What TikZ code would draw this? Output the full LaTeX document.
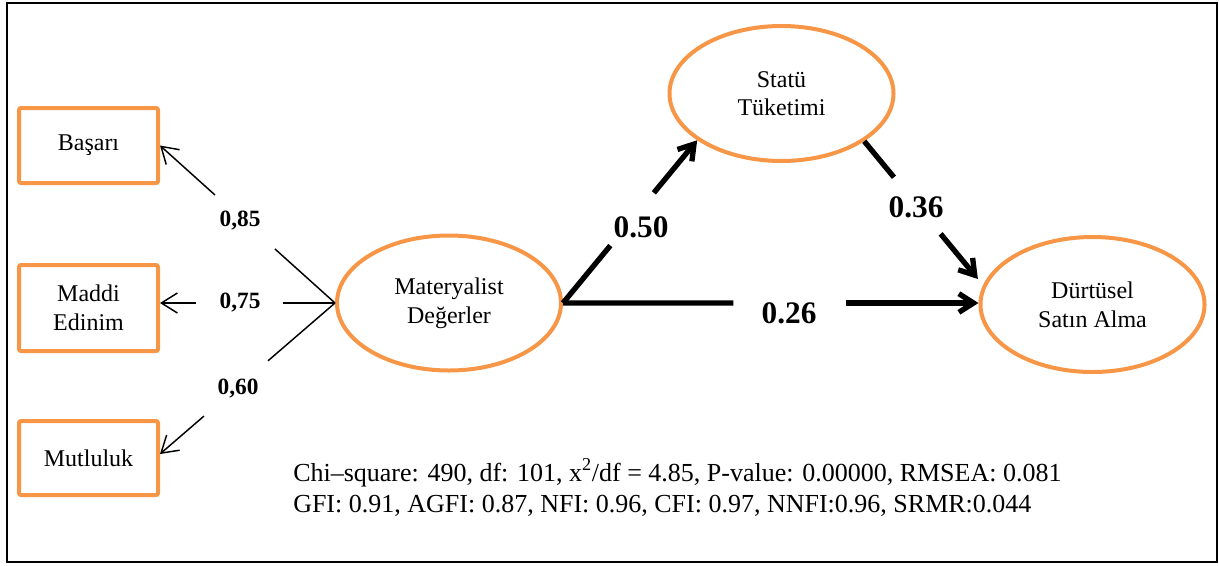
\documentclass[tikz,border=0pt]{standalone}
\usepackage{fontspec}
\setmainfont{Liberation Serif}
\usetikzlibrary{arrows.meta,calc,shapes.geometric}
\definecolor{borange}{HTML}{F79646}
\newcommand{\nodefont}{\fontsize{18}{21.5}\selectfont}
\begin{document}
\begin{tikzpicture}[x=0.75pt,y=-0.75pt,
  box/.style={draw=borange, line width=3pt, rounded corners=1.5pt, minimum width=104.25pt, inner sep=0pt, align=center, font=\nodefont},
  lat/.style={ellipse, draw=borange, line width=3pt, minimum width=168pt, minimum height=101.25pt, inner sep=0pt, align=center, font=\nodefont},
  thinline/.style={line width=1.1pt},
  thinarr/.style={line width=1.1pt, -{Straight Barb[length=12pt,width=15pt]}},
  thickline/.style={line width=4pt},
  thickarr/.style={line width=4pt, -{Straight Barb[length=11pt,width=14pt]}},
  smalllab/.style={font=\fontsize{17.5}{21}\selectfont\bfseries, inner sep=0pt},
  biglab/.style={font=\fontsize{23.5}{28}\selectfont\bfseries, inner sep=0pt}]
\useasboundingbox (0,0) rectangle (1219,565);
\draw[line width=1.9pt] (7,3) rectangle (1217,562);
% indicator boxes
\node[box, minimum height=56.25pt] (bas) at (88.5,145.5) {Başarı};
\node[box, minimum height=64.5pt] (mad) at (88.5,308) {Maddi\\Edinim};
\node[box, minimum height=55.5pt] (mut) at (88.5,458) {Mutluluk};
% latent ellipses
\node[lat] (mat) at (449,303) {Materyalist\\Değerler};
\node[lat] (stat) at (781.5,93.5) {Statü\\Tüketimi};
\node[lat] (dur) at (1092.5,304.5) {Dürtüsel\\Satın Alma};
% targets
\coordinate (madin) at (mat.west -| mad.east);
\coordinate (mutin) at ([yshift=3pt]mut.east);
\coordinate (durin) at (mat.east -| dur.west);
% thin loadings
\coordinate (a1) at ($(mat.west)!0.343!(bas.east)$);
\coordinate (b1) at ($(mat.west)!0.686!(bas.east)$);
\draw[thinline] (mat.west) -- (a1);
\draw[thinarr] (b1) -- (bas.east);
\node[smalllab] (l85) at (240,221) {0,85};
\coordinate (a2) at ($(mat.west)!0.297!(madin)$);
\coordinate (b2) at ($(mat.west)!0.794!(madin)$);
\draw[thinline] (mat.west) -- (a2);
\draw[thinarr] (b2) -- (madin);
\node[smalllab] (l75) at (240,303) {0,75};
\coordinate (a3) at ($(mat.west)!0.383!(mutin)$);
\coordinate (b3) at ($(mat.west)!0.749!(mutin)$);
\draw[thinline] (mat.west) -- (a3);
\draw[thinarr] (b3) -- (mutin);
\node[smalllab] (l60) at (238,389) {0,60};
% structural paths
\coordinate (a4) at ($(mat.east)!0.353!(stat.209)$);
\coordinate (b4) at ($(mat.east)!0.677!(stat.209)$);
\draw[thickline] (mat.east) -- (a4);
\draw[thickarr] (b4) -- (stat.209);
\node[biglab] (l50) at (641,227) {0.50};
\coordinate (a5) at ($(stat.-30)!0.25!(dur.170)$);
\coordinate (b5) at ($(stat.-30)!0.643!(dur.170)$);
\draw[thickline] (stat.-30) -- (a5);
\draw[thickarr, shorten >=6pt] (b5) -- (dur.170);
\node[biglab] (l36) at (916,207) {0.36};
\coordinate (a6) at ($(mat.east)!0.41!(durin)$);
\coordinate (b6) at ($(mat.east)!0.68!(durin)$);
\draw[thickline] (mat.east) -- (a6);
\draw[thickarr] (b6) -- (durin);
\node[biglab] (l26) at (789,313) {0.26};
% fit indices
\node[anchor=base west, inner sep=0pt, align=left, font=\fontsize{19.5}{23.25}\selectfont] (fit) at (293,512)
  {Chi--square: 490, df: 101, x\textsuperscript{2}/df = 4.85, P-value: 0.00000, RMSEA: 0.081\\
   GFI: 0.91, AGFI: 0.87, NFI: 0.96, CFI: 0.97, NNFI:0.96, SRMR:0.044};
\end{tikzpicture}
\end{document}
